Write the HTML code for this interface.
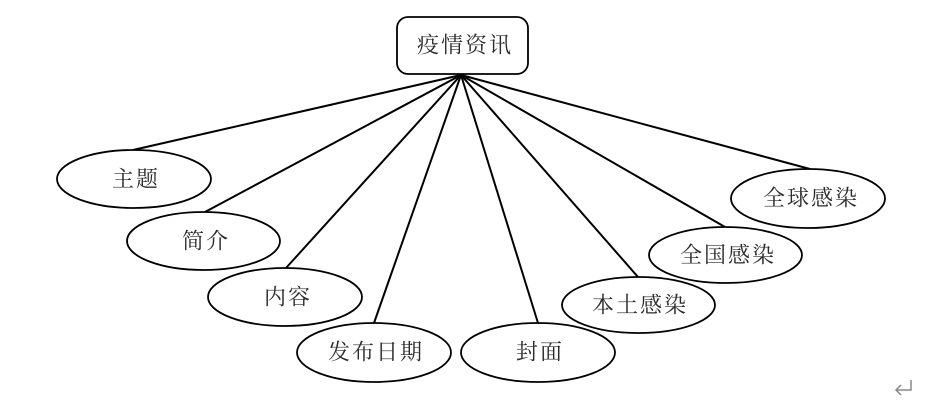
<!DOCTYPE html>
<html><head><meta charset="utf-8"><style>
html,body{margin:0;padding:0;background:#fff;}
svg{display:block;}
text{font-family:"Liberation Serif","Noto Serif CJK SC","Noto Sans CJK SC",serif;font-size:22px;fill:#2a2a2a;text-anchor:middle;dominant-baseline:central;letter-spacing:2px;}
</style></head><body>
<svg width="932" height="401" viewBox="0 0 932 401" xmlns="http://www.w3.org/2000/svg">
<g stroke="#000" stroke-width="2" fill="none">
<line x1="461" y1="75" x2="133" y2="150"/>
<line x1="461" y1="75" x2="205" y2="212"/>
<line x1="461" y1="75" x2="286" y2="268"/>
<line x1="461" y1="75" x2="374" y2="323"/>
<line x1="461" y1="75" x2="538" y2="323"/>
<line x1="461" y1="75" x2="638" y2="277"/>
<line x1="461" y1="75" x2="725" y2="227"/>
<line x1="461" y1="75" x2="810" y2="169"/>
</g>
<g stroke="#000" stroke-width="1.8" fill="#fff">
<rect x="397" y="17" width="131" height="57" rx="11" ry="11"/>
<ellipse cx="134" cy="179" rx="77" ry="29"/>
<ellipse cx="203.5" cy="241" rx="76.5" ry="29"/>
<ellipse cx="285" cy="297" rx="77" ry="29"/>
<ellipse cx="374" cy="352.5" rx="77" ry="29.5"/>
<ellipse cx="538" cy="352.5" rx="77" ry="29.5"/>
<ellipse cx="638.5" cy="305" rx="76.5" ry="28"/>
<ellipse cx="725.5" cy="255" rx="76.5" ry="28"/>
<ellipse cx="808" cy="198.5" rx="77" ry="29.5"/>
</g>
<text x="465" y="45">疫情资讯</text>
<text x="136" y="179">主题</text>
<text x="206" y="241">简介</text>
<text x="288" y="297">内容</text>
<text x="376" y="352">发布日期</text>
<text x="540" y="352">封面</text>
<text x="640" y="305">本土感染</text>
<text x="728" y="255">全国感染</text>
<text x="811" y="198">全球感染</text>
<g stroke="#888" stroke-width="1.5" fill="none">
<polyline points="911,380 911,390 896,390"/>
<polyline points="901,385 896,390 901,395"/>
</g>
</svg>
</body></html>
